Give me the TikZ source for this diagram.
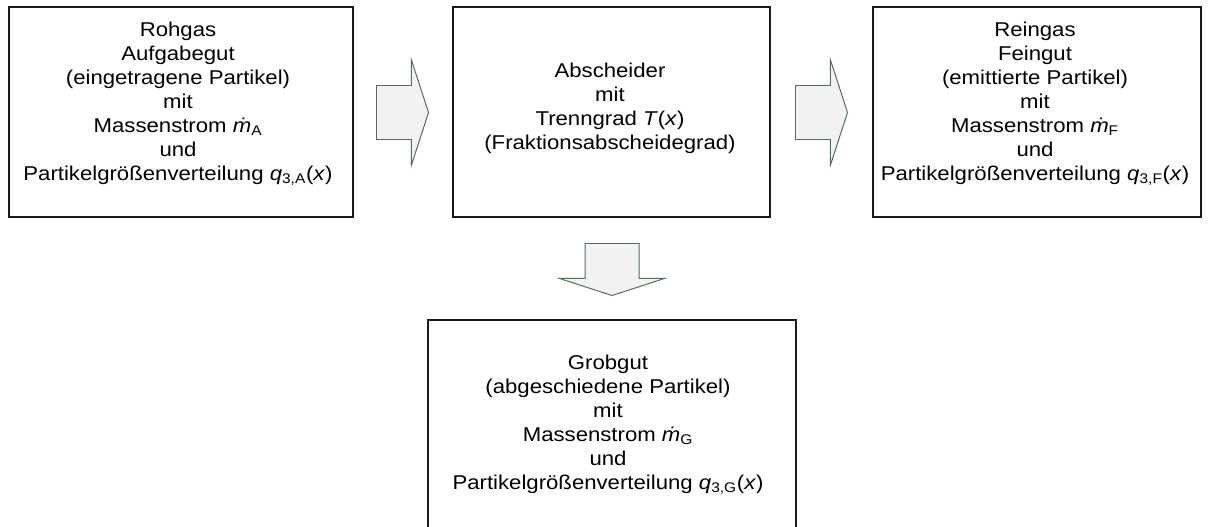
\documentclass[tikz,border=0pt]{standalone}
\usepackage{fontspec}
\setmainfont{Liberation Sans}[FakeStretch=1.11]
\usetikzlibrary{shapes.arrows}

\definecolor{pfeilrand}{RGB}{80,112,86}
\definecolor{pfeilfuell}{RGB}{242,242,242}

\tikzset{
  kasten/.style={draw=black!90, line width=1.2pt, minimum height=5.25cm, inner sep=0pt},
  kastentext/.style={align=center, inner sep=0pt, anchor=north,
    font=\fontsize{14.2pt}{17.1pt}\selectfont},
  pfeil/.style={single arrow, draw=pfeilrand, fill=pfeilfuell, line width=0.7pt,
    minimum height=1.3cm, inner xsep=0pt, inner ysep=0.6625cm,
    single arrow head extend=0.65cm, single arrow tip angle=144, anchor=tail}
}

\begin{document}
\begin{tikzpicture}[x=0.025cm, y=-0.025cm]

\useasboundingbox (0,0) rectangle (1208,526);

% Rohgas
\node[kasten, minimum width=8.6cm] (rohgas) at (181,112) {};
\node[kastentext] (trohgas) at (178,21.5)
{Rohgas\\ Aufgabegut\\ (eingetragene Partikel)\\ mit\\
 Massenstrom \textit{\.m}\textsubscript{A}\\ und\\
 Partikelgrößenverteilung \textit{q}\textsubscript{3,A}(\textit{x})};

% Abscheider
\node[kasten, minimum width=7.925cm] (abscheider) at (611.5,112) {};
\node[kastentext] (tabscheider) at (610,62.5)
{Abscheider\\ mit\\ Trenngrad \textit{T}(\textit{x})\\ (Fraktionsabscheidegrad)};

% Reingas
\node[kasten, minimum width=8.2cm] (reingas) at (1037,112) {};
\node[kastentext] (treingas) at (1035,21.5)
{Reingas\\ Feingut\\ (emittierte Partikel)\\ mit\\
 Massenstrom \textit{\.m}\textsubscript{F}\\ und\\
 Partikelgrößenverteilung \textit{q}\textsubscript{3,F}(\textit{x})};

% Grobgut
\node[kasten, minimum width=9.2cm, minimum height=6cm] (grobgut) at (612,440) {};
\node[kastentext] (tgrobgut) at (608,354.5)
{Grobgut\\ (abgeschiedene Partikel)\\ mit\\
 Massenstrom \textit{\.m}\textsubscript{G}\\ und\\
 Partikelgrößenverteilung \textit{q}\textsubscript{3,G}(\textit{x})};

% Pfeile
\node[pfeil] (p1) at (376,112.5) {};
\node[pfeil] (p2) at (795,112.5) {};
\node[pfeil, rotate=-90] (p3) at (612,243) {};

\end{tikzpicture}
\end{document}
